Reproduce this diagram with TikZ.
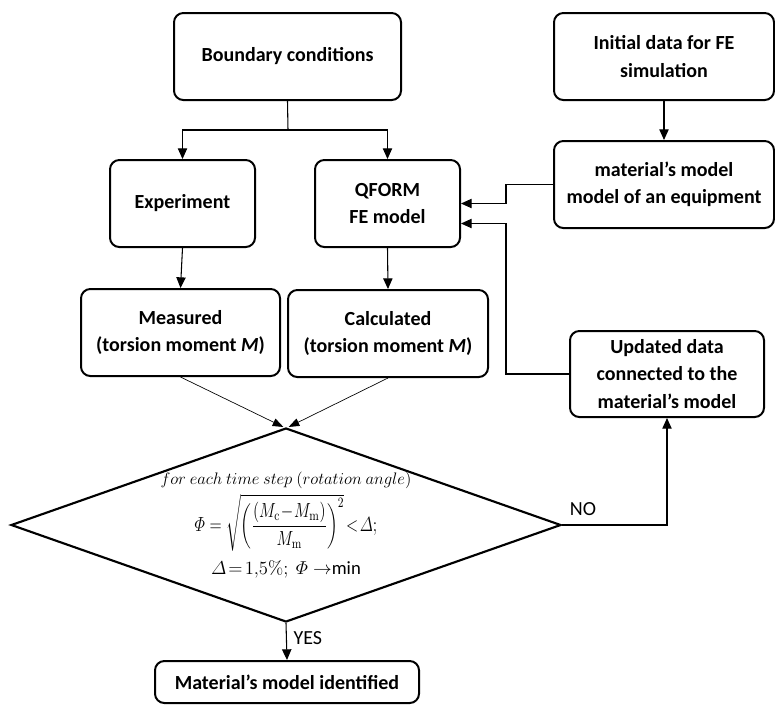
\RequirePackage{fix-cm}
\documentclass[tikz,border=0pt]{standalone}
\usepackage{amsmath}
\usepackage{graphicx}
\usepackage[no-math]{fontspec}
\setmainfont{Carlito}
\usetikzlibrary{arrows.meta,positioning,shapes.geometric}
\tikzset{block/.style={rectangle,draw,rounded corners=7pt,line width=1.5pt,
           align=center,inner sep=2pt,font=\bfseries\fontsize{15}{20.5}\selectfont},
         edge/.style={-{Triangle[length=8pt,width=7pt]},line width=0.8pt},
         post/.style={-{Triangle[length=8pt,width=6pt]},line width=0.5pt},
         decision/.style={diamond,draw,line width=1.6pt,inner sep=0pt,
           aspect=2.84,minimum width=412.5pt,minimum height=145.5pt},
         answer/.style={font=\fontsize{15}{18}\selectfont,inner sep=1pt}
}

\begin{document}
\begin{tikzpicture}[x=0.75pt,y=-0.75pt]
  \useasboundingbox (0,0) rectangle (775,704);
  % boxes
  \node[block, minimum width=170.25pt, minimum height=65.25pt] (bc) at (287.5,56.5) {Boundary conditions};
  \node[block, minimum width=165pt, minimum height=65.25pt] (init) at (664,56.5) {Initial data for FE\\simulation};
  \node[block, minimum width=108.75pt, minimum height=65.25pt] (exp) at (182.5,203.5) {Experiment};
  \node[block, minimum width=108.75pt, minimum height=65.25pt] (qform) at (387.5,203.5) {QFORM\\FE model};
  \node[block, minimum width=165pt, minimum height=65.25pt] (mat) at (664,184.5) {material’s model\\model of an equipment};
  \node[block, minimum width=149.25pt, minimum height=65.25pt] (meas) at (180.5,332.5) {Measured\\(torsion moment \textit{M})};
  \node[block, minimum width=150pt, minimum height=65.25pt] (calc) at (388,333.5) {Calculated\\(torsion moment \textit{M})};
  \node[block, minimum width=145.5pt, minimum height=64.5pt] (upd) at (667,374) {Updated data\\connected to the\\material’s model};
  \node[decision, label={[align=center,inner sep=0pt]center:%
    {\fontsize{12.5}{14}\selectfont$for\ each\ time\ step\ (rotation\ angle)$}\\[3pt]
    \resizebox*{137pt}{43pt}{\fontsize{13}{16}\selectfont$\varPhi=\sqrt{\left(\dfrac{(M_{\mathrm{c}}\!-\!M_{\mathrm{m}})}{M_{\mathrm{m}}}\right)^{2}}\!<\!\varDelta;$}\\[6pt]
    {\fontsize{14}{17}\selectfont$\varDelta\!=\!1{,}5\%;\ \varPhi\rightarrow$min}}] (check) at (286,525) {};
  \node[block, minimum width=198pt, minimum height=31.5pt] (ident) at (287,682) {Material’s model identified};
  \coordinate (split) at (288,130);
  % connectors
  \draw[line width=0.8pt] (bc.south) -- (split);
  \draw[edge] (split) -| (exp.north);
  \draw[edge] (split) -| (qform.north);
  \draw[edge] (init.south) -- (mat.north);
  \draw[edge] (mat.west) -- ++(-47,0) |- (qform.east);
  \draw[edge] (upd.west) -- ++(-63,0) |- ([yshift=-15pt]qform.east);
  \draw[edge] (exp.south) -- (meas.north);
  \draw[edge] (qform.south) -- (calc.north);
  \draw[post] (meas.south) -- ([xshift=-2pt]check.north);
  \draw[post] (calc.south) -- ([xshift=2pt]check.north);
  \draw[edge] (check.east) -| node[answer, pos=0.1, above=6pt] (no) {NO} (upd.south);
  \draw[edge] (check.south) -- node[answer, pos=0.4, right=4pt] (yes) {YES} (ident.north);
\end{tikzpicture}
\end{document}
